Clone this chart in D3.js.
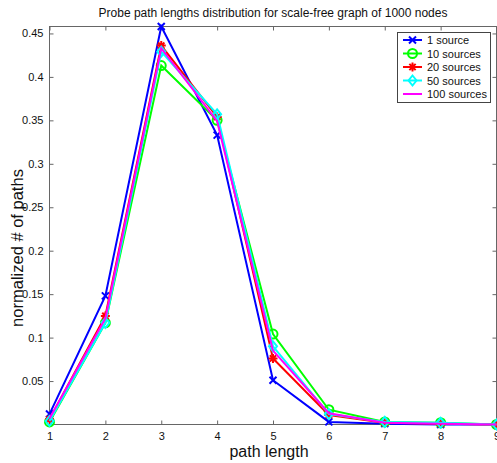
<!DOCTYPE html>
<html><head><meta charset="utf-8">
<script src="https://cdn.jsdelivr.net/npm/d3@7"></script>
<style>body{margin:0;background:#fff;}svg{display:block;font-family:Arial,"Liberation Sans",sans-serif;}</style>
</head><body><svg id="c" width="497" height="463"></svg>
<script>
const pathLengths = [1,2,3,4,5,6,7,8,9];
const series1 = [0.012,0.148,0.458,0.333,0.051,0.003,0.001,0.000,0.000];
const series10 = [0.003,0.117,0.413,0.350,0.104,0.017,0.003,0.002,0.000];
const series20 = [0.006,0.125,0.436,0.354,0.076,0.011,0.002,0.001,0.000];
const series50 = [0.004,0.117,0.429,0.357,0.090,0.012,0.003,0.002,0.000];
const series100 = [0.007,0.122,0.433,0.349,0.085,0.013,0.002,0.001,0.000];
const seriesNames = ["1 source","10 sources","20 sources","50 sources","100 sources"];
const seriesColors = ["#0000ff","#00ff00","#ff0000","#00ffff","#ff00ff"];
const seriesMarkers = ["x","circle","star","diamond","none"];
const yTicks = [0.05,0.1,0.15,0.2,0.25,0.3,0.35,0.4,0.45];
const xTicks = [1,2,3,4,5,6,7,8,9];
const titleText = "Probe path lengths distribution for scale-free graph of 1000 nodes";
const xLabel = "path length";
const yLabel = "normalized # of paths";

const allSeries = [series1,series10,series20,series50,series100];
const svg = d3.select("#c");
const L=49.5, R=496.5, T=26.5, B=424.5;
const x = d3.scaleLinear().domain([1,9]).range([L,R]);
const y = d3.scaleLinear().domain([0,0.458]).range([B,T]);
const axisCol = "#666";

svg.append("rect").attr("x",L).attr("y",T).attr("width",R-L).attr("height",B-T)
  .attr("fill","none").attr("stroke",axisCol).attr("stroke-width",1);

const tl = 4;
const gx = svg.append("g").attr("transform",`translate(0,${B})`)
  .call(d3.axisBottom(x).tickValues(xTicks).tickSizeInner(-tl).tickSizeOuter(0).tickPadding(8).tickFormat(d3.format("d")));
const gxt = svg.append("g").attr("transform",`translate(0,${T})`)
  .call(d3.axisTop(x).tickValues(xTicks).tickSizeInner(-tl).tickSizeOuter(0).tickFormat(""));
const gy = svg.append("g").attr("transform",`translate(${L},0)`)
  .call(d3.axisLeft(y).tickValues(yTicks).tickSizeInner(-tl).tickSizeOuter(0).tickPadding(6).tickFormat(d=>String(+d.toFixed(2))));
const gyr = svg.append("g").attr("transform",`translate(${R},0)`)
  .call(d3.axisRight(y).tickValues(yTicks).tickSizeInner(-tl).tickSizeOuter(0).tickFormat(""));
[gx,gxt,gy,gyr].forEach(g=>{
  g.select(".domain").remove();
  g.selectAll("line").attr("stroke",axisCol);
  g.selectAll("text").attr("fill","#111").style("font-size","11px").style("font-family","Arial, 'Liberation Sans', sans-serif");
});

const line = d3.line().x((d,i)=>x(pathLengths[i])).y(d=>y(d));
const plot = svg.append("g");

function marker(g, type, cx, cy, col){
  if(type==="x"){
    const s=3.5;
    g.append("path").attr("d",`M${cx-s},${cy-s}L${cx+s},${cy+s}M${cx-s},${cy+s}L${cx+s},${cy-s}`)
      .attr("stroke",col).attr("stroke-width",2).attr("fill","none");
  } else if(type==="circle"){
    g.append("circle").attr("cx",cx).attr("cy",cy).attr("r",4.5).attr("fill","none").attr("stroke",col).attr("stroke-width",2);
  } else if(type==="star"){
    const s=4.5;
    g.append("path").attr("d",`M${cx-s},${cy}L${cx+s},${cy}M${cx},${cy-s}L${cx},${cy+s}M${cx-s*0.7},${cy-s*0.7}L${cx+s*0.7},${cy+s*0.7}M${cx-s*0.7},${cy+s*0.7}L${cx+s*0.7},${cy-s*0.7}`)
      .attr("stroke",col).attr("stroke-width",2).attr("fill","none");
  } else if(type==="diamond"){
    const s=5;
    g.append("path").attr("d",`M${cx},${cy-s}L${cx+s*0.8},${cy}L${cx},${cy+s}L${cx-s*0.8},${cy}Z`)
      .attr("stroke",col).attr("stroke-width",2).attr("fill","none");
  }
}

allSeries.forEach((s,k)=>{
  plot.append("path").datum(s).attr("d",line).attr("fill","none")
    .attr("stroke",seriesColors[k]).attr("stroke-width",2).attr("stroke-linejoin","miter");
  s.forEach((v,i)=>marker(plot, seriesMarkers[k], x(pathLengths[i]), y(v), seriesColors[k]));
});

svg.append("text").attr("x",273).attr("y",17).attr("text-anchor","middle")
  .style("font-size","12px").attr("fill","#111").text(titleText);
svg.append("text").attr("x",269).attr("y",457).attr("text-anchor","middle")
  .style("font-size","16px").attr("fill","#111").text(xLabel);
svg.append("text").attr("transform","translate(23,248) rotate(-90)").attr("text-anchor","middle")
  .style("font-size","16.5px").attr("fill","#111").text(yLabel);

const lg = svg.append("g");
lg.append("rect").attr("x",397.5).attr("y",32.5).attr("width",93).attr("height",70)
  .attr("fill","#fff").attr("stroke","#444").attr("stroke-width",1);
seriesNames.forEach((n,k)=>{
  const ly = 40 + k*13.5;
  lg.append("line").attr("x1",403).attr("x2",422).attr("y1",ly).attr("y2",ly)
    .attr("stroke",seriesColors[k]).attr("stroke-width",2);
  marker(lg, seriesMarkers[k], 412.5, ly, seriesColors[k]);
  lg.append("text").attr("x",427).attr("y",ly+4).style("font-size","11px").attr("fill","#111").text(n);
});
</script></body></html>
